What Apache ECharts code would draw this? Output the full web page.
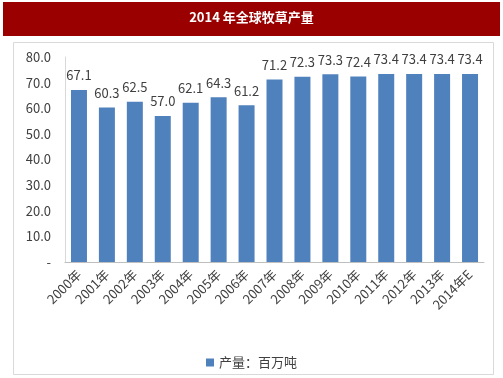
<!DOCTYPE html>
<html>
<head>
<meta charset="utf-8">
<script src="https://cdn.jsdelivr.net/npm/echarts@6/dist/echarts.min.js"></script>
<style>
  html, body { margin: 0; padding: 0; background: #fff; }
  #main { width: 503px; height: 378px; }
</style>
</head>
<body>
<div id="main"></div>
<script>
var years = ['2000年','2001年','2002年','2003年','2004年','2005年','2006年','2007年',
             '2008年','2009年','2010年','2011年','2012年','2013年','2014年E'];
var output = [67.1, 60.3, 62.5, 57.0, 62.1, 64.3, 61.2, 71.2,
              72.3, 73.3, 72.4, 73.4, 73.4, 73.4, 73.4];
var seriesName = '产量：百万吨';

var myChart = echarts.init(document.getElementById('main'));

var option = {
    backgroundColor: '#fff',
    textStyle: { fontFamily: 'Noto Sans CJK SC' },
    graphic: [
        // title bar
        { type: 'rect', left: 3, top: 2, shape: { width: 497, height: 34 },
          style: { fill: '#9b0000' }, z: 0 },
        { type: 'text', left: 'center', top: 11,
          style: { text: '2014 年全球牧草产量', fill: '#fff', font: 'bold 13px "Noto Sans CJK SC"' }, z: 1 },
        // chart frame
        { type: 'rect', left: 11, top: 40, shape: { width: 480, height: 332 },
          style: { fill: 'none', stroke: '#d9d9d9', lineWidth: 1 }, z: 0 }
    ],
    legend: {
        bottom: 4,
        left: 'center',
        itemWidth: 8,
        itemHeight: 8,
        icon: 'rect',
        textStyle: { color: '#404040', fontSize: 13 },
        data: [seriesName]
    },
    grid: { left: 65, right: 19, top: 57, bottom: 116 },
    xAxis: {
        type: 'category',
        data: years,
        axisLine: { lineStyle: { color: '#bfbfbf' } },
        axisTick: { show: false },
        axisLabel: { rotate: 45, color: '#404040', fontSize: 13, interval: 0, margin: 10 }
    },
    yAxis: {
        type: 'value',
        min: 0, max: 80, interval: 10,
        axisLine: { show: true, lineStyle: { color: '#d9d9d9' } },
        axisTick: { show: false },
        splitLine: { show: false },
        axisLabel: {
            color: '#404040', fontSize: 13, margin: 14,
            formatter: function (v) { return v === 0 ? '-' : v.toFixed(1); }
        }
    },
    series: [{
        name: seriesName,
        type: 'bar',
        data: output,
        barWidth: 16,
        itemStyle: { color: '#4f81bd' },
        label: {
            show: true, position: 'top', distance: 8,
            color: '#404040', fontSize: 13,
            formatter: function (p) { return p.value.toFixed(1); }
        }
    }]
};

myChart.setOption(option);
</script>
</body>
</html>
